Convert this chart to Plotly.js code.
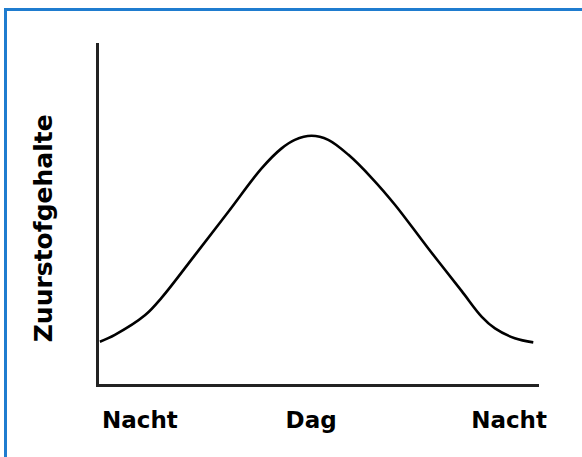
<!DOCTYPE html>
<html>
<head>
<meta charset="utf-8">
<script src="https://cdn.plot.ly/plotly-3.0.1.min.js"></script>
<style>
html,body{margin:0;padding:0;background:#fff;overflow:hidden;}
#chart{width:582px;height:457px;}
#frame{position:absolute;left:4px;top:8px;width:700px;height:600px;border-top:3px solid #1f7ccf;border-left:3px solid #1f7ccf;pointer-events:none;z-index:10;}
</style>
</head>
<body>
<div id="frame"></div>
<div id="chart"></div>
<script>
// Time of day (arbitrary units across one day-night cycle)
const time = [0.2, 3.6, 10.5, 14.3, 21.8, 29.4, 37.0, 41.5, 44.5, 48.3, 52.1, 56.7, 62.0, 67.3, 74.8, 82.4, 87.0, 90.0, 94.5, 98.7];
// Oxygen content (arbitrary units)
const oxygen = [12.4, 14.4, 20.2, 25.4, 37.8, 50.5, 63.3, 69.1, 71.6, 72.8, 71.6, 67.2, 60.4, 52.5, 39.8, 27.3, 19.7, 16.3, 13.4, 12.2];
// Tick labels
const tickPos = [9.3, 48.2, 93.2];
const tickText = ["Nacht", "Dag", "Nacht"];
const yTitle = "Zuurstofgehalte";

const tickFont = {family: "DejaVu Sans, Verdana, sans-serif", size: 23, color: "#000", weight: "bold"};
const titleFont = {family: "DejaVu Sans, Verdana, sans-serif", size: 25, color: "#000", weight: "bold"};

Plotly.newPlot("chart", [{
  x: time, y: oxygen, type: "scatter", mode: "lines",
  line: {color: "#000", width: 2.6, shape: "spline", smoothing: 1},
  hoverinfo: "skip"
}], {
  width: 582, height: 457,
  margin: {l: 99, r: 43, t: 43, b: 73},
  paper_bgcolor: "#fff", plot_bgcolor: "#fff",
  showlegend: false,
  xaxis: {
    range: [0, 100], showgrid: false, zeroline: false,
    showline: true, linecolor: "#222", linewidth: 3,
    tickmode: "array", tickvals: tickPos, ticktext: tickText,
    ticks: "", tickfont: tickFont, ticklabelstandoff: 13, fixedrange: true
  },
  yaxis: {
    range: [0, 100], showgrid: false, zeroline: false,
    showline: true, linecolor: "#222", linewidth: 3,
    showticklabels: false, ticks: "", fixedrange: true
  },
  annotations: [{
    text: yTitle, xref: "paper", yref: "paper", x: -0.127, y: 0.457,
    xanchor: "center", yanchor: "middle", textangle: -90, showarrow: false,
    font: titleFont
  }]
}, {displayModeBar: false, staticPlot: true});
</script>
</body>
</html>
